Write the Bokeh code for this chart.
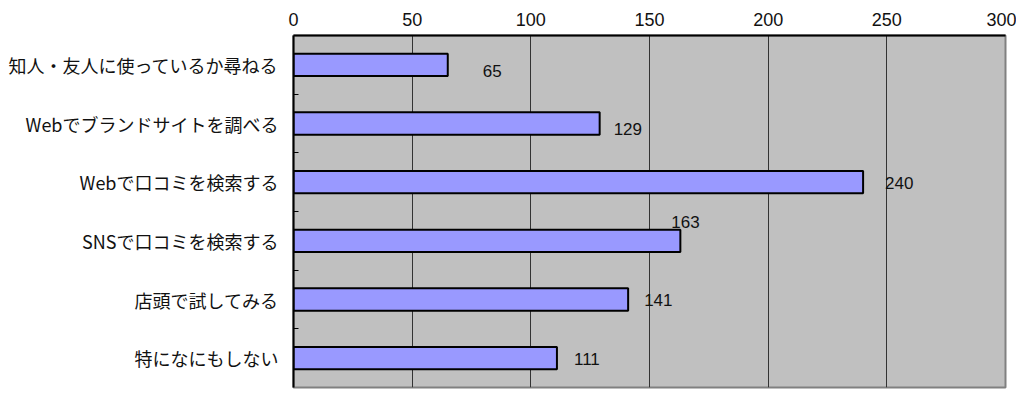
from bokeh.plotting import figure
from bokeh.models import Range1d, FixedTicker, ColumnDataSource, LabelSet
from bokeh.core.properties import value
from bokeh.embed import file_html
from bokeh.resources import INLINE

categories = ["知人・友人に使っているか尋ねる", "Webでブランドサイトを調べる", "Webで口コミを検索する",
              "SNSで口コミを検索する", "店頭で試してみる", "特になにもしない"]
values = [65, 129, 240, 163, 141, 111]
x_ticks = [0, 50, 100, 150, 200, 250, 300]
# label placement tweaks (pixels) mimicking the original
label_dx = [35, 14, 22, -9, 16, 17]
label_dy = [-6, -5, -1, 19, 0, -1]

n = len(categories)
centers = [i + 0.5 for i in range(n)]

p = figure(width=1016, height=390, output_backend="svg", toolbar_location=None,
           x_range=Range1d(0, 300), y_range=Range1d(n, 0),
           x_axis_location="above", min_border_left=293, min_border_right=11,
           min_border_top=35, min_border_bottom=3)
p.background_fill_color = "#C0C0C0"
p.border_fill_color = "white"
p.outline_line_color = "#808080"
p.outline_line_width = 2

src = ColumnDataSource(dict(y=centers, right=values, label=[str(v) for v in values],
                            dx=label_dx, dy=label_dy))
p.hbar(y="y", left=0, right="right", height=0.38, source=src,
       fill_color="#9999FF", line_color="black", line_width=2)

labels = LabelSet(x="right", y="y", text="label", source=src, x_offset="dx", y_offset="dy",
                  text_font=value("Liberation Sans"), text_font_size=value("17px"),
                  text_color="#111111", text_baseline="middle", text_align="left")
p.add_layout(labels)

xa = p.xaxis[0]
xa.ticker = FixedTicker(ticks=x_ticks)
xa.major_tick_in = 0
xa.major_tick_out = 0
xa.minor_tick_in = 0
xa.minor_tick_out = 0
xa.axis_line_color = "black"
xa.axis_line_width = 2
xa.major_label_text_font = "Liberation Sans"
xa.major_label_text_font_size = "18px"
xa.major_label_text_color = "#111111"
xa.major_label_standoff = 10

ya = p.yaxis[0]
ya.ticker = FixedTicker(ticks=centers, minor_ticks=[i for i in range(1, n)])
ya.major_label_overrides = {c: cat for c, cat in zip(centers, categories)}
ya.major_tick_in = 0
ya.major_tick_out = 0
ya.minor_tick_in = 5
ya.minor_tick_out = 0
ya.minor_tick_line_color = "black"
ya.axis_line_color = "black"
ya.axis_line_width = 2
ya.major_label_text_font = "Noto Sans CJK JP"
ya.major_label_text_font_size = "18px"
ya.major_label_text_color = "#111111"
ya.major_label_standoff = 15

p.xgrid.grid_line_color = "#333333"
p.xgrid.grid_line_width = 1
p.xgrid.grid_line_alpha = 1
p.ygrid.grid_line_color = None

open("out.html", "w").write(file_html(p, INLINE))
